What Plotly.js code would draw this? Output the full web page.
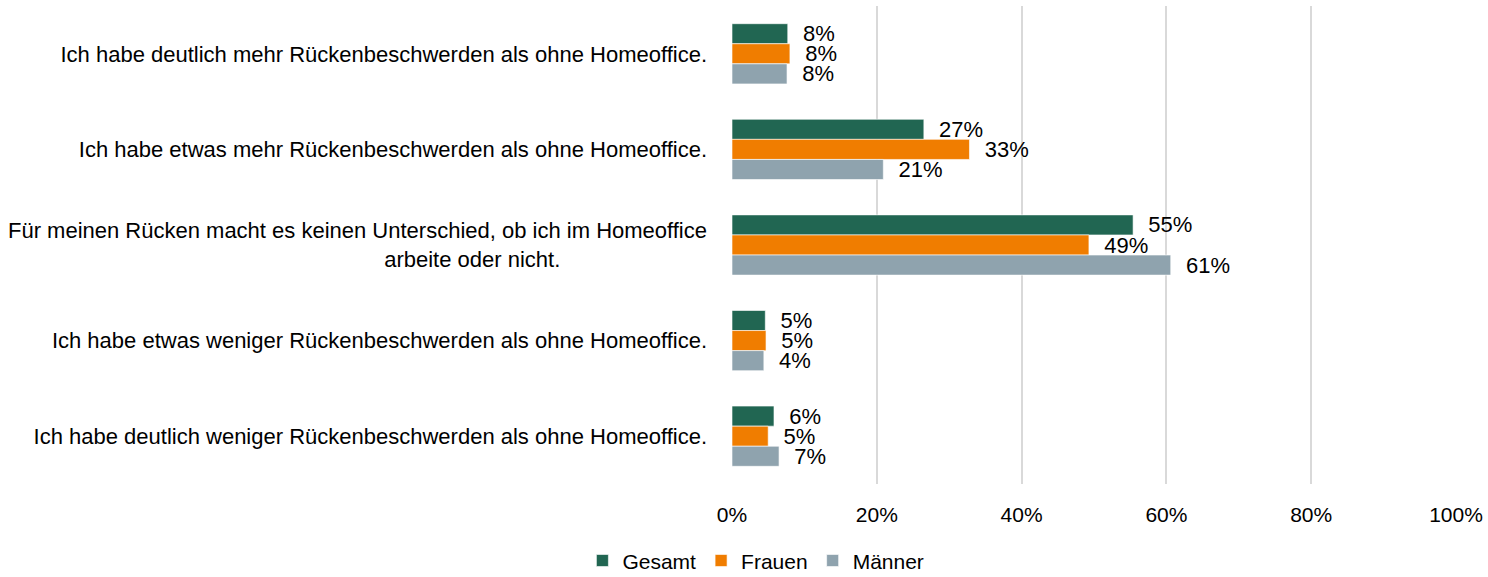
<!DOCTYPE html>
<html><head><meta charset="utf-8">
<script src="https://cdn.plot.ly/plotly-3.0.1.min.js"></script>
<style>html,body{margin:0;padding:0;background:#fff}</style>
</head><body>
<div id="chart" style="width:1488px;height:577px"></div>
<script>
const categories = [
  "Ich habe deutlich mehr Rückenbeschwerden als ohne Homeoffice.",
  "Ich habe etwas mehr Rückenbeschwerden als ohne Homeoffice.",
  "Für meinen Rücken macht es keinen Unterschied, ob ich im Homeoffice<br>arbeite oder nicht." + "\u00a0".repeat(24),
  "Ich habe etwas weniger Rückenbeschwerden als ohne Homeoffice.",
  "Ich habe deutlich weniger Rückenbeschwerden als ohne Homeoffice."
];
const gesamt = [7.7, 26.5, 55.4, 4.6, 5.8];
const frauen = [8.0, 32.8, 49.3, 4.7, 5.0];
const maenner = [7.6, 20.9, 60.6, 4.4, 6.5];
const seriesNames = ["Gesamt", "Frauen", "Männer"];
const colors = ["#216652", "#f07d00", "#8fa3ae"];
const tickVals = [0, 20, 40, 60, 80, 100];
const tickText = ["0%", "20%", "40%", "60%", "80%", "100%"];

const FONT = "'Liberation Sans', Arial, sans-serif";
const pad = "\u00a0\u00a0";
const traces = [gesamt, frauen, maenner].map((vals, i) => ({
  type: "bar", orientation: "h",
  name: seriesNames[i], x: vals, y: categories,
  marker: {color: colors[i], line: {color: "#ffffff", width: 0.6}},
  texttemplate: pad + "%{x:.0f}%",
  textposition: "outside", constraintext: "none", cliponaxis: false,
  textfont: {family: FONT, size: 22, color: "#000"},
  hoverinfo: "skip"
}));

const layout = {
  width: 1488, height: 577,
  margin: {l: 732, r: 32, t: 6, b: 93},
  paper_bgcolor: "#fff", plot_bgcolor: "#fff",
  barmode: "group", bargap: 0.37, bargroupgap: 0,
  font: {family: FONT, size: 22, color: "#000"},
  xaxis: {range: [0, 100], tickvals: tickVals, ticktext: tickText,
    showgrid: true, gridcolor: "#d9d9d9", gridwidth: 2,
    zeroline: false, showline: false, ticks: "", ticklabelstandoff: 16,
    tickfont: {family: FONT, size: 21, color: "#000"}, fixedrange: true},
  yaxis: {autorange: "reversed", showgrid: false, zeroline: false, showline: false,
    ticks: "", ticklabelstandoff: 24,
    tickfont: {family: FONT, size: 22, color: "#000"}, fixedrange: true},
  showlegend: true,
  legend: {orientation: "h", xref: "container", yref: "container",
    x: 0.508, xanchor: "center", y: 0.028, yanchor: "middle",
    font: {family: FONT, size: 21, color: "#000"},
    itemwidth: 30, tracegroupgap: 0, traceorder: "normal"}
};
Plotly.newPlot("chart", traces, layout, {displayModeBar: false, staticPlot: true});
</script>
</body></html>
